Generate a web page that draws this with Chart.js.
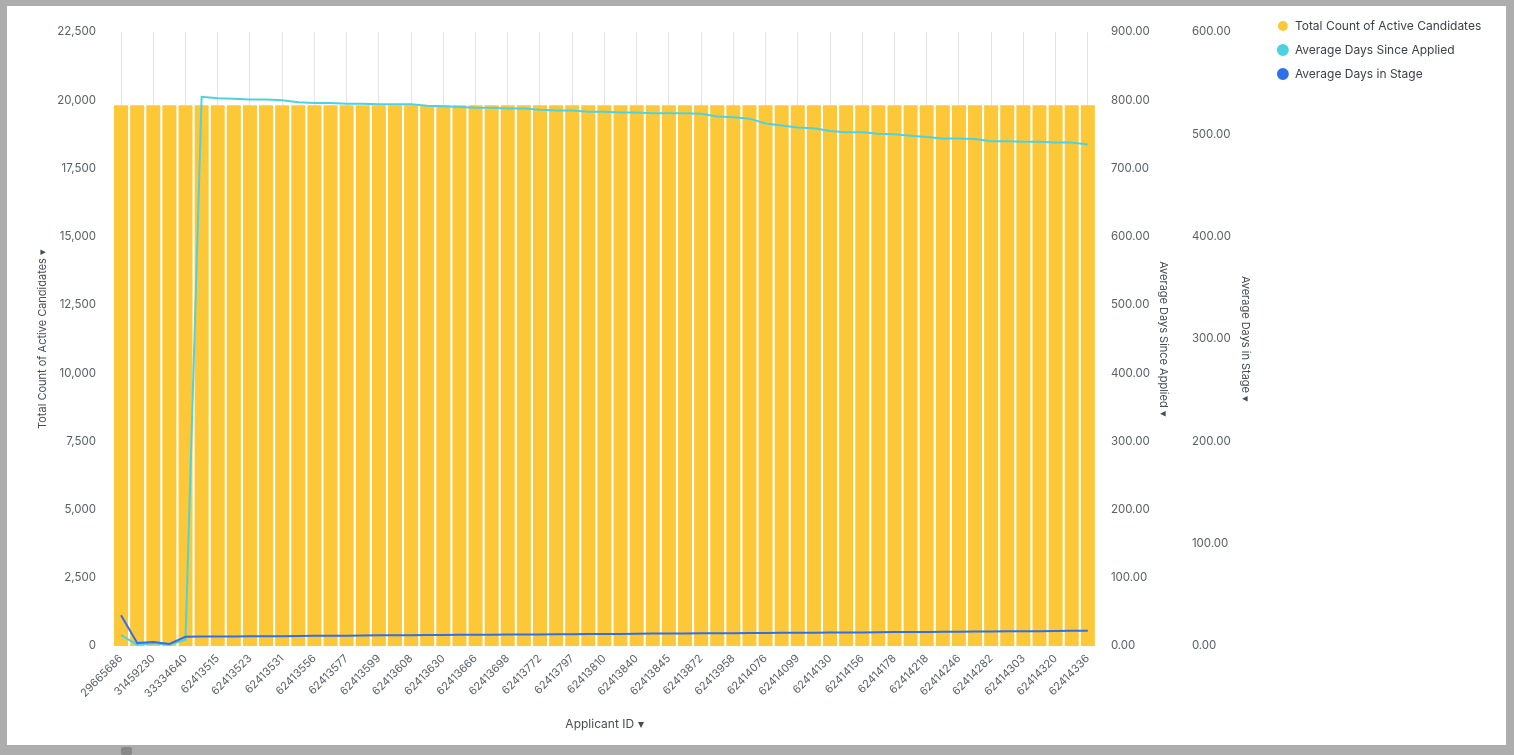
<!DOCTYPE html>
<html>
<head>
<meta charset="utf-8">
<script src="https://cdn.jsdelivr.net/npm/chart.js@4"></script>
<style>
  html, body { margin: 0; padding: 0; }
  body { width: 1514px; height: 755px; background: #adadad; position: relative; overflow: hidden; }
  #panel { position: absolute; left: 7px; top: 6px; width: 1499px; height: 739px; background: #ffffff; }
  #thumb { position: absolute; left: 121px; top: 747px; width: 11px; height: 8px; background: #888888; border-radius: 2px; }
</style>
</head>
<body>
<div id="panel"><canvas id="chart"></canvas></div>
<div id="thumb"></div>
<script>
// applicant ids, one per bar (only every other one is printed on the axis)
const applicantIds = [
  '29665686', '30512478', '31459230', '32407715', '33334640', '62413511', '62413515', '62413519',
  '62413523', '62413527', '62413531', '62413544', '62413556', '62413569', '62413577', '62413588',
  '62413599', '62413603', '62413608', '62413621', '62413630', '62413651', '62413666', '62413684',
  '62413698', '62413740', '62413772', '62413785', '62413797', '62413804', '62413810', '62413826',
  '62413840', '62413842', '62413845', '62413859', '62413872', '62413910', '62413958', '62414012',
  '62414076', '62414088', '62414099', '62414117', '62414130', '62414142', '62414156', '62414167',
  '62414178', '62414196', '62414218', '62414231', '62414246', '62414263', '62414282', '62414291',
  '62414303', '62414311', '62414320', '62414328', '62414336'
];

const activeCandidates = [
  19820, 19820, 19820, 19820, 19820, 19820, 19820, 19820, 19820, 19820,
  19820, 19820, 19820, 19820, 19820, 19820, 19820, 19820, 19820, 19820,
  19820, 19820, 19820, 19820, 19820, 19820, 19820, 19820, 19820, 19820,
  19820, 19820, 19820, 19820, 19820, 19820, 19820, 19820, 19820, 19820,
  19820, 19820, 19820, 19820, 19820, 19820, 19820, 19820, 19820, 19820,
  19820, 19820, 19820, 19820, 19820, 19820, 19820, 19820, 19820, 19820,
  19820
];

const daysSinceApplied = [
  16, 2, 4, 2, 9, 805, 803, 802, 801, 801,
  800, 797, 796, 796, 795, 795, 794, 794, 794, 792,
  791, 790, 789, 789, 788, 788, 786, 785, 785, 783,
  783, 782, 782, 781, 781, 781, 780, 776, 775, 773,
  766, 763, 760, 759, 755, 753, 753, 751, 750, 748,
  746, 744, 744, 743, 740, 740, 739, 739, 738, 738,
  735
];

const daysInStage = [
  30, 3, 4, 2, 9, 9.2, 9.3, 9.3, 9.5, 9.6,
  9.6, 9.8, 9.9, 10.1, 10.1, 10.2, 10.4, 10.4, 10.5, 10.7,
  10.7, 10.9, 11.0, 11.0, 11.2, 11.3, 11.3, 11.5, 11.6, 11.7,
  11.8, 11.8, 12.0, 12.1, 12.1, 12.3, 12.4, 12.5, 12.5, 12.7,
  12.8, 12.9, 13.0, 13.0, 13.2, 13.3, 13.3, 13.5, 13.6, 13.7,
  13.7, 13.9, 14.0, 14.1, 14.1, 14.3, 14.4, 14.5, 14.6, 14.8,
  14.9
];

const seriesNames = ['Total Count of Active Candidates', 'Average Days Since Applied', 'Average Days in Stage'];
const seriesColors = ['#fcc838', '#4dd2e2', '#2f6fea'];

const tickColor = '#5b6068';
const titleColor = '#474c55';
const baseFont = 'Inter, "Noto Sans", sans-serif';

// the layout caps the legend width; let it run out to the canvas edge so nothing is clipped
const widenLegend = {
  id: 'widenLegend',
  afterLayout(chart) {
    const lg = chart.legend;
    if (!lg) return;
    lg.right = chart.width;
    lg.width = lg.right - lg.left;
  }
};

new Chart(document.getElementById('chart'), {
  type: 'bar',
  data: {
    labels: applicantIds,
    datasets: [
      {
        type: 'bar',
        label: seriesNames[0],
        data: activeCandidates,
        backgroundColor: seriesColors[0],
        borderWidth: 0,
        categoryPercentage: 1,
        barPercentage: 0.87,
        yAxisID: 'y',
        order: 3
      },
      {
        type: 'line',
        label: seriesNames[1],
        data: daysSinceApplied,
        borderColor: seriesColors[1],
        backgroundColor: seriesColors[1],
        borderWidth: 2,
        pointRadius: 0,
        tension: 0,
        yAxisID: 'y1',
        order: 2
      },
      {
        type: 'line',
        label: seriesNames[2],
        data: daysInStage,
        borderColor: seriesColors[2],
        backgroundColor: seriesColors[2],
        borderWidth: 2,
        pointRadius: 0,
        tension: 0,
        yAxisID: 'y2',
        order: 1
      }
    ]
  },
  plugins: [widenLegend],
  options: {
    responsive: true,
    maintainAspectRatio: false,
    animation: false,
    // right padding picked so the (width-capped) legend box starts where the reference legend does
    layout: { padding: { left: 25, top: 2, right: 65, bottom: 11 } },
    font: { family: baseFont },
    plugins: {
      tooltip: { enabled: false },
      // empty spacer above the plot only, so the legend can sit higher
      title: { display: true, text: '', fullSize: false, font: { size: 10 }, padding: { top: 12, bottom: 0 } },
      legend: {
        position: 'right',
        align: 'start',
        labels: {
          usePointStyle: true,
          pointStyle: 'circle',
          boxWidth: 12,
          boxHeight: 7,
          padding: 12,
          color: '#3c4049',
          font: { family: baseFont, size: 12 },
          sort: (a, b) => a.datasetIndex - b.datasetIndex
        }
      }
    },
    scales: {
      x: {
        grid: {
          offset: false,
          drawTicks: false,
          color: ctx => (ctx.index % 2 === 0 ? '#e4e4e4' : 'rgba(0,0,0,0)')
        },
        border: { display: false },
        ticks: {
          autoSkip: false,
          minRotation: 45,
          maxRotation: 45,
          padding: 6,
          color: tickColor,
          font: { family: baseFont, size: 11 },
          callback: (v, i) => (i % 2 === 0 ? applicantIds[i] : '')
        },
        title: { display: true, text: 'Applicant ID \u25BE', color: titleColor, font: { family: baseFont, size: 12 }, padding: { top: 4, bottom: 2 } },
        afterFit: s => { s.height = 88; }
      },
      y: {
        position: 'left',
        min: 0,
        max: 22500,
        grid: { display: false, drawTicks: false },
        border: { display: false },
        ticks: {
          stepSize: 2500,
          padding: 17,
          color: tickColor,
          font: { family: baseFont, size: 11.5 },
          callback: v => v.toLocaleString('en-US')
        },
        title: { display: true, text: 'Total Count of Active Candidates \u25BE', color: titleColor, font: { family: baseFont, size: 11 }, padding: { top: 4, bottom: 4 } },
        afterFit: s => { s.width = 81; }
      },
      y1: {
        position: 'right',
        min: 0,
        max: 900,
        grid: { display: false, drawTicks: false },
        border: { display: false },
        ticks: {
          stepSize: 100,
          padding: 15,
          color: tickColor,
          font: { family: baseFont, size: 11.5 },
          callback: v => v.toFixed(2)
        },
        title: { display: true, text: 'Average Days Since Applied \u25BE', color: titleColor, font: { family: baseFont, size: 11 }, padding: { top: 4, bottom: 4 } },
        afterFit: s => { s.width = 78; }
      },
      y2: {
        position: 'right',
        min: 0,
        max: 600,
        grid: { display: false, drawTicks: false },
        border: { display: false },
        ticks: {
          stepSize: 100,
          padding: 18,
          color: tickColor,
          font: { family: baseFont, size: 11.5 },
          callback: v => v.toFixed(2)
        },
        title: { display: true, text: 'Average Days in Stage \u25BE', color: titleColor, font: { family: baseFont, size: 11 }, padding: { top: 13, bottom: 4 } },
        afterFit: s => { s.width = 91; }
      }
    }
  }
});
</script>
</body>
</html>
